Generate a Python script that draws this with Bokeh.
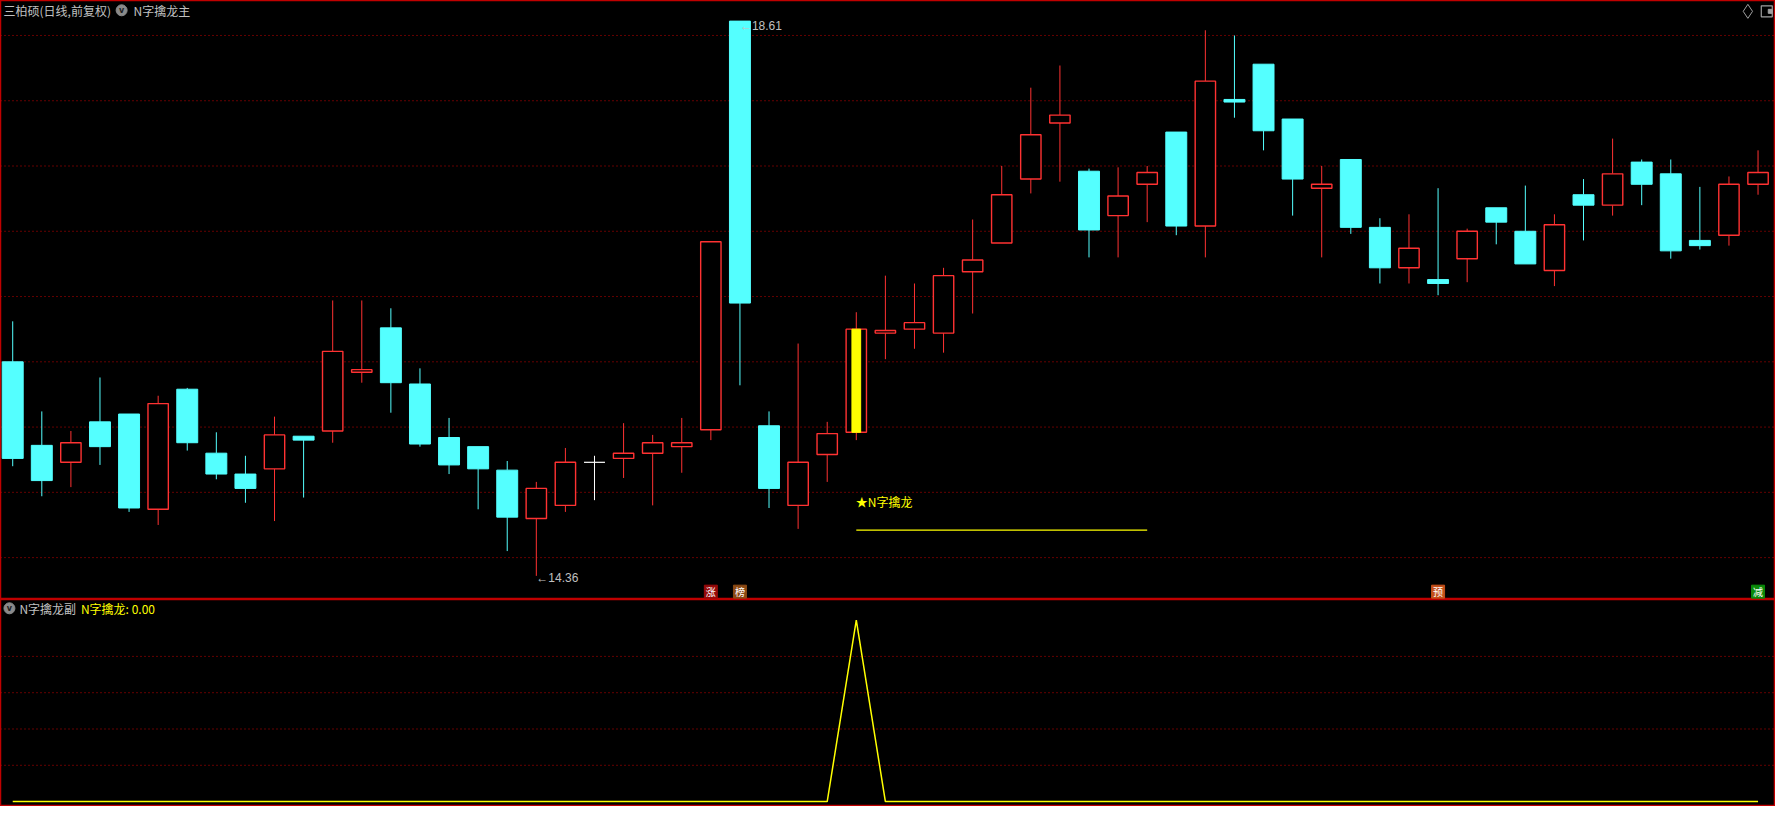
from bokeh.plotting import figure
from bokeh.layouts import column
from bokeh.models import Range1d, Span
from bokeh.core.properties import value
from bokeh.embed import file_html
from bokeh.resources import INLINE

# ---------------- data ----------------
opens = [16.00, 15.36, 15.23, 15.54, 15.60, 14.87, 15.79, 15.30, 15.14, 15.18,
         15.43, 15.47, 15.92, 16.26, 15.83, 15.42, 15.35, 15.17, 14.80, 14.90,
         15.23, 15.26, 15.30, 15.35, 15.48, 18.61, 15.51, 14.90, 15.29, 15.46,
         16.22, 16.25, 16.22, 16.69, 16.91, 17.40, 17.83, 17.46, 17.12, 17.36,
         17.76, 17.04, 18.01, 18.28, 17.86, 17.33, 17.55, 17.03, 16.72, 16.63,
         16.79, 17.18, 17.00, 16.70, 17.28, 17.20, 17.53, 17.44, 16.93, 16.97,
         17.36]
highs = [16.31, 15.62, 15.47, 15.88, 15.60, 15.74, 15.80, 15.46, 15.28, 15.58,
         15.43, 16.47, 16.47, 16.41, 15.95, 15.57, 15.35, 15.24, 15.08, 15.34,
         15.28, 15.53, 15.44, 15.57, 16.92, 18.61, 15.62, 16.14, 15.54, 16.38,
         16.66, 16.60, 16.72, 17.09, 17.50, 18.10, 18.27, 17.48, 17.49, 17.50,
         17.76, 18.54, 18.50, 18.28, 17.86, 17.50, 17.55, 17.10, 17.13, 17.33,
         17.02, 17.18, 17.35, 17.13, 17.40, 17.71, 17.55, 17.55, 17.34, 17.42,
         17.62]
lows = [15.20, 14.97, 15.04, 15.21, 14.85, 14.75, 15.32, 15.10, 14.92, 14.78,
        14.96, 15.38, 15.84, 15.61, 15.35, 15.14, 14.87, 14.55, 14.36, 14.85,
        14.94, 15.11, 14.90, 15.15, 15.40, 15.82, 14.88, 14.72, 15.08, 15.40,
        16.02, 16.10, 16.07, 16.37, 16.91, 17.29, 17.38, 16.80, 16.80, 17.07,
        16.97, 16.80, 17.87, 17.62, 17.12, 16.80, 16.98, 16.60, 16.60, 16.51,
        16.61, 16.90, 16.75, 16.58, 16.93, 17.12, 17.20, 16.79, 16.86, 16.89,
        17.28]
closes = [15.26, 15.09, 15.38, 15.35, 14.88, 15.68, 15.38, 15.14, 15.03, 15.44,
          15.40, 16.08, 15.94, 15.84, 15.37, 15.21, 15.18, 14.81, 15.03, 15.23,
          15.23, 15.30, 15.38, 15.38, 16.92, 16.45, 15.03, 15.23, 15.45, 16.25,
          16.24, 16.30, 16.66, 16.78, 17.28, 17.74, 17.89, 17.01, 17.27, 17.45,
          17.04, 18.15, 17.99, 17.77, 17.40, 17.36, 17.03, 16.72, 16.87, 16.60,
          17.00, 17.07, 16.75, 17.05, 17.20, 17.44, 17.36, 16.85, 16.89, 17.36,
          17.45]
signal = [0] * 29 + [1] + [0] * 31          # N字擒龙 sub-indicator
signal_bar = 29                               # bar where the signal fires
drawline_x = [29, 39]
drawline_y = [14.71, 14.71]
badge_idx = [24, 25, 49, 60]
badge_text = ["涨", "榜", "预", "减"]
badge_color = ["#960a0a", "#8c4a14", "#c4501a", "#0a8a0a"]
price_grid = [14.5, 15.0, 15.5, 16.0, 16.5, 17.0, 17.5, 18.0, 18.5]
sub_grid = [0.2, 0.4, 0.6, 0.8]

n = len(opens)
idx = list(range(n))

UP = "#ff3232"
DN = "#54ffff"
GRID = "#c80000"
FRAME = "#c00000"
TXT = "#c0c0c0"
CJK = value("Noto Sans CJK SC")

W, H1, H2 = 1775, 599, 207

def make_fig(h, yr):
    f = figure(width=W, height=h, x_range=Range1d(-0.42, 60.6), y_range=yr,
               output_backend="svg", toolbar_location=None,
               x_axis_type=None, y_axis_type=None,
               background_fill_color="black", border_fill_color="black",
               min_border=0)
    f.grid.visible = False
    f.outline_line_color = FRAME
    f.outline_line_width = 1.5
    return f

p1 = make_fig(H1, Range1d(14.179, 18.768))
for g in price_grid:
    p1.add_layout(Span(location=g, dimension="width", line_color=GRID,
                       line_dash="1 3", line_width=1, level="underlay"))

# candles
up_x, up_o, up_c = [], [], []
dn_x, dn_o, dn_c = [], [], []
wx, wy0, wy1, wcol = [], [], [], []
dj_x, dj_y = [], []
for i in idx:
    o, h, l, c = opens[i], highs[i], lows[i], closes[i]
    if c > o:
        col = UP
        up_x.append(i); up_o.append(o); up_c.append(c)
    elif c < o:
        col = DN
        dn_x.append(i); dn_o.append(o); dn_c.append(c)
    else:
        col = "#ffffff"
        dj_x.append(i); dj_y.append(o)
    top, bot = max(o, c), min(o, c)
    wx += [i, i]; wy0 += [h, bot]; wy1 += [top, l]; wcol += [col, col]

p1.segment(x0=wx, y0=wy0, x1=wx, y1=wy1, line_color=wcol, line_width=1)
p1.vbar(x=dn_x, width=0.72, top=dn_o, bottom=dn_c, fill_color=DN, line_color=DN)
p1.vbar(x=up_x, width=0.70, top=up_c, bottom=up_o, fill_color="black",
        line_color=UP, line_width=1.4)
p1.segment(x0=[x - 0.36 for x in dj_x], y0=dj_y, x1=[x + 0.36 for x in dj_x],
           y1=dj_y, line_color="#ffffff", line_width=1.2)
# signal highlight inside the candle
p1.vbar(x=[signal_bar], width=0.3, top=[closes[signal_bar]],
        bottom=[opens[signal_bar]], fill_color="#ffff00", line_color="#ffff00")

# drawline + label
p1.line(drawline_x, drawline_y, line_color="#ffff00", line_width=1.3)
p1.text(x=[signal_bar - 0.02], y=[14.93], text=["★N字擒龙"], text_color="#ffff00",
        text_font=CJK, text_font_size="12px", text_baseline="middle", text_align="left")

# high / low markers
hi_i = max(idx, key=lambda i: highs[i])
lo_i = min(idx, key=lambda i: lows[i])
p1.text(x=[hi_i, lo_i], y=[highs[hi_i] - 0.04, lows[lo_i] - 0.02],
        text=["←%.2f" % highs[hi_i], "←%.2f" % lows[lo_i]], text_color=TXT,
        text_font=value("Liberation Sans"), text_font_size="12px",
        text_baseline="middle", text_align="left")

# badges
badge_y = [14.239] * len(badge_idx)
p1.rect(x=badge_idx, y=badge_y, width=13, height=13, width_units="screen",
        height_units="screen", fill_color=badge_color, line_color=badge_color)
p1.text(x=badge_idx, y=badge_y, text=badge_text, text_color="#ffffff", text_font=CJK,
        text_font_size="10px", text_align="center", text_baseline="middle")

# title bar
p1.text(x=[-0.317], y=[18.693], text=["三柏硕(日线,前复权)"], text_color=TXT,
        text_font=CJK, text_font_size="12px", text_baseline="middle", text_align="left")
p1.scatter(x=[3.744], y=[18.693], marker="circle", size=11, fill_color="#8a8a8a",
           line_color="#8a8a8a")
p1.text(x=[3.744], y=[18.693], text=["v"], text_color="#202020",
        text_font=value("DejaVu Sans"), text_font_size="8px", text_font_style="bold",
        text_align="center", text_baseline="middle")
p1.text(x=[4.153], y=[18.693], text=["N字擒龙主"], text_color=TXT, text_font=CJK,
        text_font_size="12px", text_baseline="middle", text_align="left")
p1.scatter(x=[59.65], y=[18.685], marker="diamond", size=14, fill_color=None,
           line_color="#a0a0a0", line_width=1)
p1.scatter(x=[60.3], y=[18.685], marker="square", size=11, fill_color=None,
           line_color="#a0a0a0", line_width=1.2)
p1.scatter(x=[60.42], y=[18.685], marker="square", size=4, fill_color="#a0a0a0",
           line_color="#a0a0a0")

# ---------------- sub panel ----------------
p2 = make_fig(H2, Range1d(-0.027, 1.1135))
for g in sub_grid:
    p2.add_layout(Span(location=g, dimension="width", line_color=GRID,
                       line_dash="1 3", line_width=1, level="underlay"))
p2.line(idx, signal, line_color="#ffff00", line_width=1.5)
p2.scatter(x=[-0.113], y=[1.065], marker="circle", size=11, fill_color="#8a8a8a",
           line_color="#8a8a8a")
p2.text(x=[-0.113], y=[1.065], text=["v"], text_color="#202020",
        text_font=value("DejaVu Sans"), text_font_size="8px", text_font_style="bold",
        text_align="center", text_baseline="middle")
p2.text(x=[0.229], y=[1.065], text=["N字擒龙副"], text_color=TXT, text_font=CJK,
        text_font_size="12px", text_baseline="middle", text_align="left")
p2.text(x=[2.345], y=[1.065], text=["N字擒龙: %.2f" % signal[-1]], text_color="#ffff00",
        text_font=CJK, text_font_size="12px", text_baseline="middle", text_align="left")

layout = column(p1, p2, spacing=0)
open("out.html", "w").write(file_html(layout, INLINE))
